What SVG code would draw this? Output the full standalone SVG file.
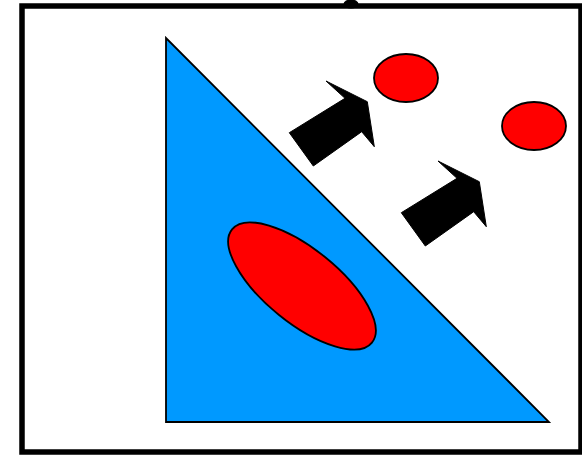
<svg xmlns="http://www.w3.org/2000/svg" xmlns:xlink="http://www.w3.org/1999/xlink" width="582" height="455" viewBox="0 0 582 455">
<style>
.red{fill:#ff0000;stroke:#000;stroke-width:1.8}
.arrow{fill:#000;stroke:#000;stroke-width:1;stroke-linejoin:miter}
</style>
<defs>
<path id="arr" d="M289.3,132.7 L345,98.3 L326,81 L367.3,101.7 L374.3,146.7 L361.7,131.7 L313.3,166 Z"/>
</defs>
<rect width="582" height="455" fill="#fff"/>
<g id="frame">
<ellipse cx="351" cy="4" rx="7.5" ry="4.5" fill="#000"/>
<rect x="22" y="6" width="559" height="446" fill="none" stroke="#000" stroke-width="5.5"/>
</g>
<g id="triangle">
<polygon points="166,38 166,422 549,422" fill="#0099ff" stroke="#000" stroke-width="1.8" stroke-linejoin="miter"/>
</g>
<g id="big-ellipse">
<ellipse class="red" cx="302" cy="286" rx="90" ry="37" transform="rotate(39 302 286)"/>
</g>
<g id="circle1">
<ellipse class="red" cx="406" cy="78" rx="32" ry="24"/>
</g>
<g id="circle2">
<ellipse class="red" cx="534" cy="126" rx="32" ry="24"/>
</g>
<g id="connectors">
<use xlink:href="#arr" class="arrow"/>
<use xlink:href="#arr" class="arrow" transform="translate(112,80)"/>
</g>
</svg>
